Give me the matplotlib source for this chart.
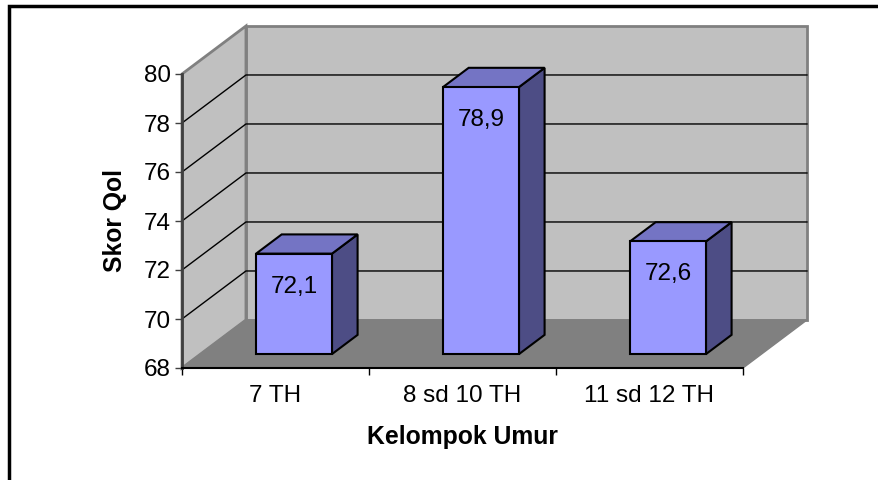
import matplotlib.pyplot as plt
from matplotlib.patches import Polygon, Rectangle

plt.rcParams['font.family'] = ['Liberation Sans', 'DejaVu Sans']

# data
categories = ['7 TH', '8 sd 10 TH', '11 sd 12 TH']
values = [72.1, 78.9, 72.6]
labels = ['72,1', '78,9', '72,6']
yticks = [68, 70, 72, 74, 76, 78, 80]

ymin, ymax = 68, 80
DX, DY = 0.342, 1.96      # oblique depth of the 3d box, in data units
f0, f1 = 0.29, 0.69       # bar front / back depth fractions
bw = 0.406                # bar width
fs = 17.5

wall = '#C0C0C0'
floor = '#808080'
front = '#9999FF'
top = '#7474C4'
side = '#4D4D85'

fig = plt.figure(figsize=(8.79, 4.8), dpi=100)
ax = fig.add_axes([182/879, 112/480, 561/879, 294/480])
ax.set_xlim(0, 3)
ax.set_ylim(ymin, ymax)
ax.patch.set_visible(False)

def poly(pts, fc, ec, lw, z):
    p = Polygon(pts, closed=True, facecolor=fc, edgecolor=ec, linewidth=lw,
                zorder=z, clip_on=False, joinstyle='miter')
    ax.add_patch(p)

n = len(categories)
# back wall, left wall, floor
poly([(DX, ymin+DY), (n+DX, ymin+DY), (n+DX, ymax+DY), (DX, ymax+DY)], wall, floor, 2, 1)
poly([(0, ymin), (DX, ymin+DY), (DX, ymax+DY), (0, ymax)], wall, floor, 2, 1)

# gridlines
for t in yticks[1:-1]:
    ax.plot([0, DX, n+DX], [t, t+DY, t+DY], color='black', lw=1, zorder=2, clip_on=False)

poly([(0, ymin), (n, ymin), (n+DX, ymin+DY), (DX, ymin+DY)], floor, floor, 1, 3)

# bars
for i, v in enumerate(values):
    x0 = i + 0.5 - bw/2 + f0*DX
    x1 = x0 + bw
    yb = ymin + f0*DY
    yt = v + f0*DY
    ddx = (f1 - f0)*DX
    ddy = (f1 - f0)*DY
    poly([(x1, yb), (x1+ddx, yb+ddy), (x1+ddx, yt+ddy), (x1, yt)], side, 'black', 1.5, 4)
    poly([(x0, yt), (x1, yt), (x1+ddx, yt+ddy), (x0+ddx, yt+ddy)], top, 'black', 1.5, 4)
    poly([(x0, yb), (x1, yb), (x1, yt), (x0, yt)], front, 'black', 1.5, 5)
    ax.text((x0+x1)/2, yt - 1.35, labels[i], ha='center', va='center',
            fontsize=fs, zorder=6)

# axes
for s in ['top', 'right']:
    ax.spines[s].set_visible(False)
ax.spines['left'].set_color('#404040')
ax.spines['left'].set_linewidth(2)
ax.spines['left'].set_zorder(7)
ax.spines['bottom'].set_color('black')
ax.spines['bottom'].set_linewidth(1.5)
ax.spines['bottom'].set_zorder(7)

ax.set_yticks(yticks)
ax.set_yticklabels([str(t) for t in yticks])
ax.tick_params(axis='y', length=5, width=1, color='#404040', labelsize=fs, pad=3)
ax.set_xticks(range(n+1))
ax.set_xticklabels([])
ax.set_xticks([i + 0.5 for i in range(n)], minor=True)
ax.set_xticklabels(categories, minor=True)
ax.tick_params(axis='x', which='major', length=5, width=1, color='black')
ax.tick_params(axis='x', which='minor', length=0, labelsize=fs, pad=12)

ax.set_xlabel('Kelompok Umur', fontsize=17.8, fontweight='bold')
ax.xaxis.set_label_coords(0.5, -0.235)
ax.xaxis.label.set_va('center')
ax.set_ylabel('Skor Qol', fontsize=17.8, fontweight='bold')
ax.yaxis.set_label_coords(-0.119, 0.5)
ax.yaxis.label.set_va('center')

# chart frame (top and left edges visible)
fig.patches.append(Rectangle((9/879, -0.1), 1.2, (474/480) + 0.1, transform=fig.transFigure,
                             fill=False, edgecolor='black', linewidth=2.5))

fig.savefig('out.png', dpi=100)
